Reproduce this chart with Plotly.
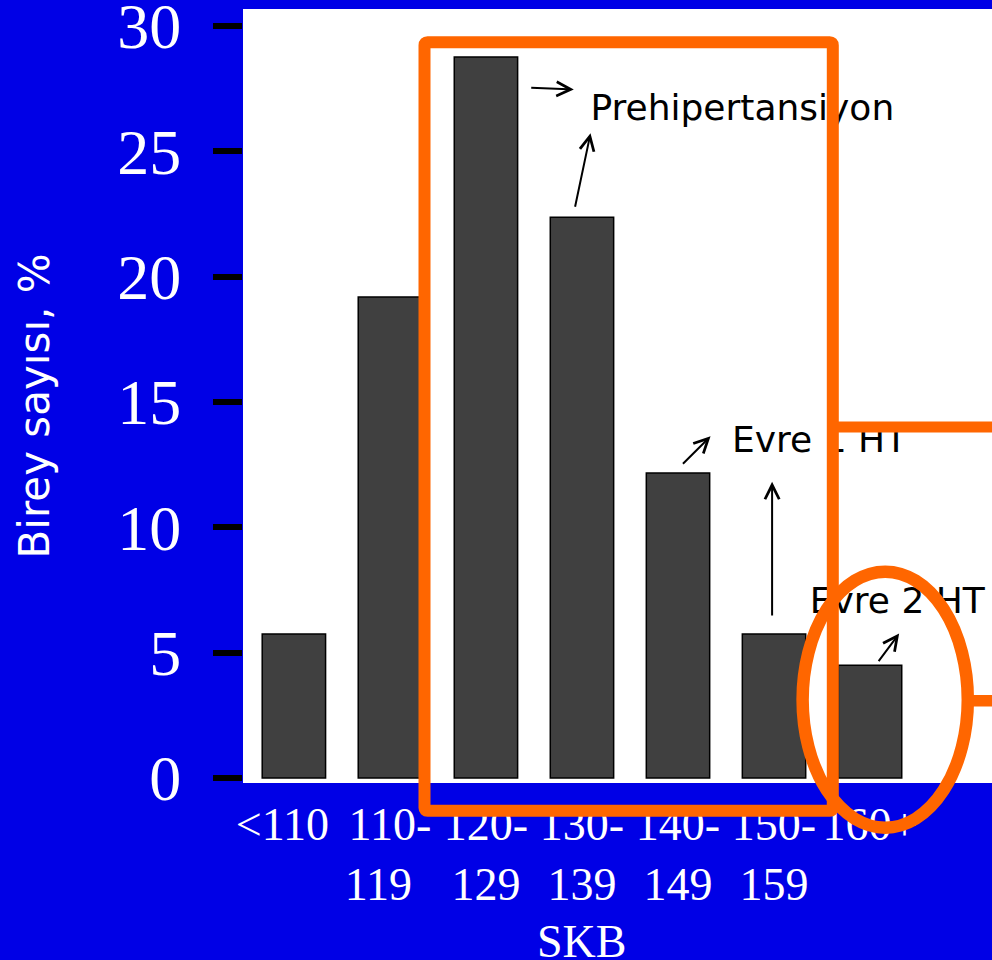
import plotly.graph_objects as go

# ---- data ----
categories = ["<110", "110-119", "120-129", "130-139", "140-149", "150-159", "160+"]
NB = "\u00a0\u00a0"
tick_labels = ["<110" + NB, "110-<br>119" + NB, "120-<br>129", "130-<br>139", "140-<br>149", "150-<br>159", "160+"]
percent = [5.74, 19.18, 28.76, 22.36, 12.16, 5.74, 4.5]
y_ticks = [0, 5, 10, 15, 20, 25, 30]

label_texts = ["Prehipertansiyon", "Evre 1 HT", "Evre 2 HT"]
label_x = [4.670, 5.474, 6.284]
label_y = [26.60, 13.36, 6.92]

# arrows: (tail_x, tail_y, tip_x, tip_y) in axis units
arrows = [
    (2.456, 27.53, 2.915, 27.46),
    (2.925, 22.72, 3.089, 25.71),
    (4.036, 12.47, 4.339, 13.63),
    (4.980, 6.42, 4.980, 11.81),
    (6.078, 4.60, 6.303, 5.76),
]

BLUE = "#0000E6"
ORANGE = "#FF6600"

W, H = 992, 960
ML, MR, MT, MB = 243, 0, 9, 177
PW = W - ML - MR
PH = H - MT - MB


def PX(px):
    return (px - ML) / PW


def PY(py):
    return (H - MB - py) / PH


fig = go.Figure()
fig.add_trace(go.Bar(
    x=list(range(len(categories))), y=percent,
    marker=dict(color="#404040", line=dict(color="black", width=1.5)),
    hoverinfo="skip", showlegend=False,
))
fig.add_trace(go.Scatter(
    x=label_x, y=label_y, text=label_texts, mode="text",
    textposition="middle center",
    textfont=dict(family="DejaVu Sans", size=36, color="black"),
    cliponaxis=False, hoverinfo="skip", showlegend=False,
))

annotations = []
for tx, ty, hx, hy in arrows:
    annotations.append(dict(
        x=hx, y=hy, ax=tx, ay=ty, xref="x", yref="y", axref="x", ayref="y",
        text="", showarrow=True, arrowhead=5, arrowsize=1.4, arrowwidth=2,
        arrowcolor="black", standoff=0, startstandoff=0,
    ))
annotations.append(dict(
    x=3, y=PY(941), xref="x", yref="paper", text="SKB", showarrow=False,
    xanchor="center", yanchor="middle",
    font=dict(family="Liberation Serif", size=46, color="white"),
))
annotations.append(dict(
    x=PX(34), y=PY(406.5), xref="paper", yref="paper", text="Birey sayısı, %",
    showarrow=False, textangle=-90, xanchor="center", yanchor="middle",
    font=dict(family="DejaVu Sans", size=42, color="white"),
))


def rounded_rect(x0, y0, x1, y1, r):
    pts = [
        f"M{PX(x0 + r)},{PY(y0)}",
        f"L{PX(x1 - r)},{PY(y0)}", f"Q{PX(x1)},{PY(y0)} {PX(x1)},{PY(y0 + r)}",
        f"L{PX(x1)},{PY(y1 - r)}", f"Q{PX(x1)},{PY(y1)} {PX(x1 - r)},{PY(y1)}",
        f"L{PX(x0 + r)},{PY(y1)}", f"Q{PX(x0)},{PY(y1)} {PX(x0)},{PY(y1 - r)}",
        f"L{PX(x0)},{PY(y0 + r)}", f"Q{PX(x0)},{PY(y0)} {PX(x0 + r)},{PY(y0)}",
        "Z",
    ]
    return " ".join(pts)


shapes = [
    dict(type="path", xref="paper", yref="paper", layer="above",
         path=rounded_rect(424.5, 42.2, 832.8, 810.8, 3),
         line=dict(color=ORANGE, width=12)),
    dict(type="line", xref="paper", yref="paper", layer="above",
         x0=PX(832.8), x1=PX(1000), y0=PY(427), y1=PY(427),
         line=dict(color=ORANGE, width=11)),
    dict(type="circle", xref="paper", yref="paper", layer="above",
         x0=PX(885.2 - 82.6), x1=PX(885.2 + 82.6), y0=PY(699.7 + 128), y1=PY(699.7 - 128),
         line=dict(color=ORANGE, width=12.5)),
    dict(type="line", xref="paper", yref="paper", layer="above",
         x0=PX(967.8), x1=PX(1000), y0=PY(700.8), y1=PY(700.8),
         line=dict(color=ORANGE, width=11.5)),
]

fig.update_layout(
    width=W, height=H, autosize=False,
    margin=dict(l=ML, r=MR, t=MT, b=MB, pad=0, autoexpand=False),
    paper_bgcolor=BLUE, plot_bgcolor="white",
    bargap=0.34, showlegend=False,
    annotations=annotations, shapes=shapes,
    xaxis=dict(
        range=[-0.53, 7.27], tickmode="array",
        tickvals=list(range(len(categories))), ticktext=tick_labels,
        tickangle=0,
        ticks="", showgrid=False, zeroline=False, showline=False,
        tickfont=dict(family="Liberation Serif", size=46, color="white"),
        ticklabelstandoff=10, ticklabeloverflow="allow", automargin=False,
    ),
    yaxis=dict(
        range=[-0.2, 30.67], tickmode="array", tickvals=y_ticks,
        ticks="outside", ticklen=29, tickwidth=6, tickcolor="black",
        showgrid=False, zeroline=False, showline=False,
        tickfont=dict(family="Liberation Serif", size=64, color="white"),
        ticklabelstandoff=19, ticklabeloverflow="allow", automargin=False,
    ),
)

fig.write_html(
    "out.html",
    config={"displayModeBar": False},
    post_script=(
        "document.documentElement.style.margin='0';"
        "document.documentElement.style.background='" + BLUE + "';"
        "document.body.style.margin='0';"
        "document.body.style.padding='0';"
        "document.body.style.overflow='hidden';"
        "document.body.style.background='" + BLUE + "';"
    ),
)
